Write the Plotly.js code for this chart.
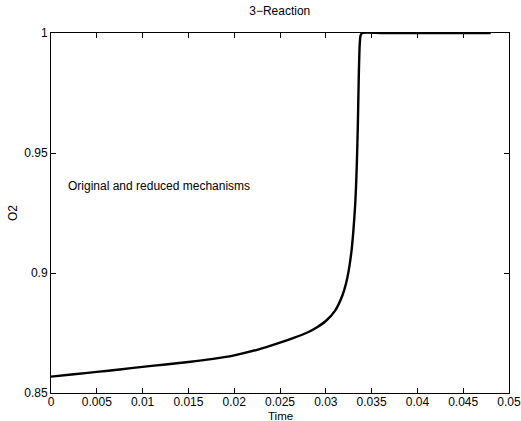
<!DOCTYPE html>
<html><head><meta charset="utf-8">
<script src="https://cdn.plot.ly/plotly-3.0.1.min.js"></script>
<style>html,body{margin:0;padding:0;background:#fff}#chart{width:521px;height:421px}</style>
</head><body><div id="chart"></div>
<script>
const time = [0, 0.0025, 0.005, 0.0075, 0.01, 0.0125, 0.015, 0.0175, 0.02, 0.0225, 0.025, 0.0265, 0.028, 0.029, 0.030, 0.031, 0.0318, 0.0322, 0.0325, 0.0328, 0.033, 0.0332, 0.0333, 0.0334, 0.0335, 0.0336, 0.0337, 0.0338, 0.034, 0.036, 0.04, 0.044, 0.048];
const o2 = [0.8568, 0.8578, 0.8588, 0.8598, 0.8609, 0.8619, 0.8629, 0.8641, 0.8657, 0.8680, 0.8710, 0.8730, 0.8752, 0.8773, 0.8800, 0.8842, 0.8905, 0.8955, 0.9010, 0.9090, 0.9170, 0.9280, 0.9360, 0.9470, 0.9620, 0.9820, 0.9950, 0.9990, 1.0, 1.0, 1.0, 1.0, 1.0];
const xTicks = [0, 0.005, 0.01, 0.015, 0.02, 0.025, 0.03, 0.035, 0.04, 0.045, 0.05];
const xTickLabels = ['0', '0.005', '0.01', '0.015', '0.02', '0.025', '0.03', '0.035', '0.04', '0.045', '0.05'];
const yTicks = [0.85, 0.9, 0.95, 1];
const yTickLabels = ['0.85', '0.9', '0.95', '1'];
const titleText = '3\u2212Reaction';
const xLabel = 'Time';
const yLabel = 'O2';
const noteText = 'Original and reduced mechanisms';

const font = {family: 'Liberation Sans, Arial, sans-serif', size: 12, color: '#000'};
const traces = [{
  x: time, y: o2, mode: 'lines', type: 'scatter',
  line: {color: '#000', width: 2.4, shape: 'spline', smoothing: 0.6},
  hoverinfo: 'skip', cliponaxis: false
}];
const axisCommon = {
  showgrid: false, zeroline: false, showline: true, linecolor: '#000', linewidth: 1,
  mirror: 'allticks', ticks: 'inside', ticklen: 5, tickcolor: '#000', tickwidth: 1,
  tickfont: font, ticklabeloverflow: 'allow'
};
const layout = {
  width: 521, height: 421,
  margin: {l: 51, r: 12, t: 33, b: 28},
  paper_bgcolor: '#fff', plot_bgcolor: '#fff',
  showlegend: false, font: font,
  title: {text: titleText, font: font, x: 0.537, xanchor: 'center', y: 0.975, yanchor: 'middle'},
  xaxis: Object.assign({}, axisCommon, {
    range: [0, 0.05], tickvals: xTicks, ticktext: xTickLabels, ticklabelstandoff: -2
  }),
  yaxis: Object.assign({}, axisCommon, {
    range: [0.85, 1], tickvals: yTicks, ticktext: yTickLabels,
    title: {text: yLabel, font: font}
  }),
  annotations: [{
    x: 0.00164, y: 0.9363, xref: 'x', yref: 'y', text: noteText, showarrow: false,
    xanchor: 'left', yanchor: 'middle', font: font
  }, {
    x: 0.5, y: -0.0458, xref: 'paper', yref: 'paper', text: xLabel, showarrow: false,
    xanchor: 'center', yanchor: 'top', borderpad: 0, font: {family: font.family, size: 11.5, color: '#000'}
  }]
};
Plotly.newPlot('chart', traces, layout, {staticPlot: true, displayModeBar: false});
</script></body></html>
